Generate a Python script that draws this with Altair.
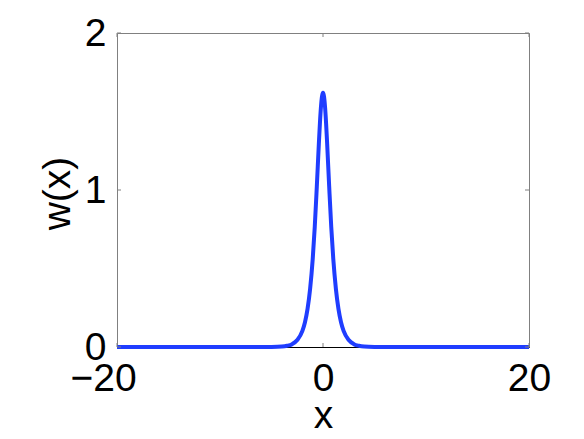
import altair as alt
import pandas as pd

# Curve values
x_vals = [-20, -10, -6, -5, -4, -3.5, -3, -2.5, -2, -1.75, -1.5, -1.25, -1, -0.8, -0.6, -0.4, -0.3, -0.2, -0.1, 0,
          0.1, 0.2, 0.3, 0.4, 0.6, 0.8, 1, 1.25, 1.5, 1.75, 2, 2.5, 3, 3.5, 4, 5, 6, 10, 20]
w_vals = [0, 0.0001, 0.0001, 0.0006, 0.0033, 0.0078, 0.018, 0.044, 0.103, 0.158, 0.243, 0.371, 0.559, 0.765, 1.023, 1.298, 1.425, 1.528, 1.596, 1.62,
          1.596, 1.528, 1.425, 1.298, 1.023, 0.765, 0.559, 0.371, 0.243, 0.158, 0.103, 0.044, 0.018, 0.0078, 0.0033, 0.0006, 0.0001, 0.0001, 0]

x_ticks = [-20, 0, 20]
y_ticks = [0, 1, 2]

W, H = 412, 314
FONT = "Liberation Sans"
FS = 39
TICK_LEN = 4
GRAY = "#808080"

df = pd.DataFrame({"x": x_vals, "w": w_vals})
xt = pd.DataFrame({"x": x_ticks})
yt = pd.DataFrame({"w": y_ticks})

xscale = alt.Scale(domain=[-20, 20], nice=False, zero=False)
yscale = alt.Scale(domain=[0, 2], nice=False, zero=False)

x_axis = alt.Axis(values=x_ticks, title="x", ticks=False, grid=False,
                  labelExpr="datum.value < 0 ? '\u2212' + abs(datum.value) : '' + datum.value",
                  domainColor="black", domainWidth=1,
                  labelFlush=False, labelOverlap=False, labelPadding=12,
                  labelOffset={"expr": "datum.value == -20 ? -14 : 0"},
                  titleBaseline="alphabetic", titleY=80)
y_axis = alt.Axis(values=y_ticks, title="w(x)", ticks=False, grid=False,
                  labelExpr="'' + datum.value",
                  domain=False, labelPadding=11, labelBaseline="middle",
                  labelFlush=False, labelOverlap=False,
                  titleAngle=-90, titleBaseline="alphabetic",
                  titleX=-48, titleY=160, titleAlign="center")

line = alt.Chart(df).mark_line(color="#1f3dff", strokeWidth=4, interpolate="monotone").encode(
    x=alt.X("x:Q", scale=xscale, axis=x_axis),
    y=alt.Y("w:Q", scale=yscale, axis=y_axis),
)

tick_bottom = alt.Chart(xt).mark_rule(color=GRAY, strokeWidth=1).encode(
    x=alt.X("x:Q", scale=xscale, axis=x_axis), y=alt.value(H), y2=alt.value(H - TICK_LEN))
tick_top = alt.Chart(xt).mark_rule(color=GRAY, strokeWidth=1).encode(
    x=alt.X("x:Q", scale=xscale, axis=x_axis), y=alt.value(0), y2=alt.value(TICK_LEN))
tick_left = alt.Chart(yt).mark_rule(color=GRAY, strokeWidth=1).encode(
    y=alt.Y("w:Q", scale=yscale, axis=y_axis), x=alt.value(0), x2=alt.value(TICK_LEN))
tick_right = alt.Chart(yt).mark_rule(color=GRAY, strokeWidth=1).encode(
    y=alt.Y("w:Q", scale=yscale, axis=y_axis), x=alt.value(W), x2=alt.value(W - TICK_LEN))

chart = alt.layer(line, tick_bottom, tick_top, tick_left, tick_right).properties(
    width=W, height=H,
    autosize=alt.AutoSizeParams(type="none"),
    padding={"left": 109, "top": 25, "right": 40, "bottom": 92},
).configure_view(
    stroke=GRAY, strokeWidth=1
).configure_axis(
    labelFont=FONT, labelFontSize=FS, labelColor="black",
    titleFont=FONT, titleFontSize=FS, titleColor="black", titleFontWeight="normal",
)

chart.save("out.html", embed_options={"renderer": "svg", "actions": False})
